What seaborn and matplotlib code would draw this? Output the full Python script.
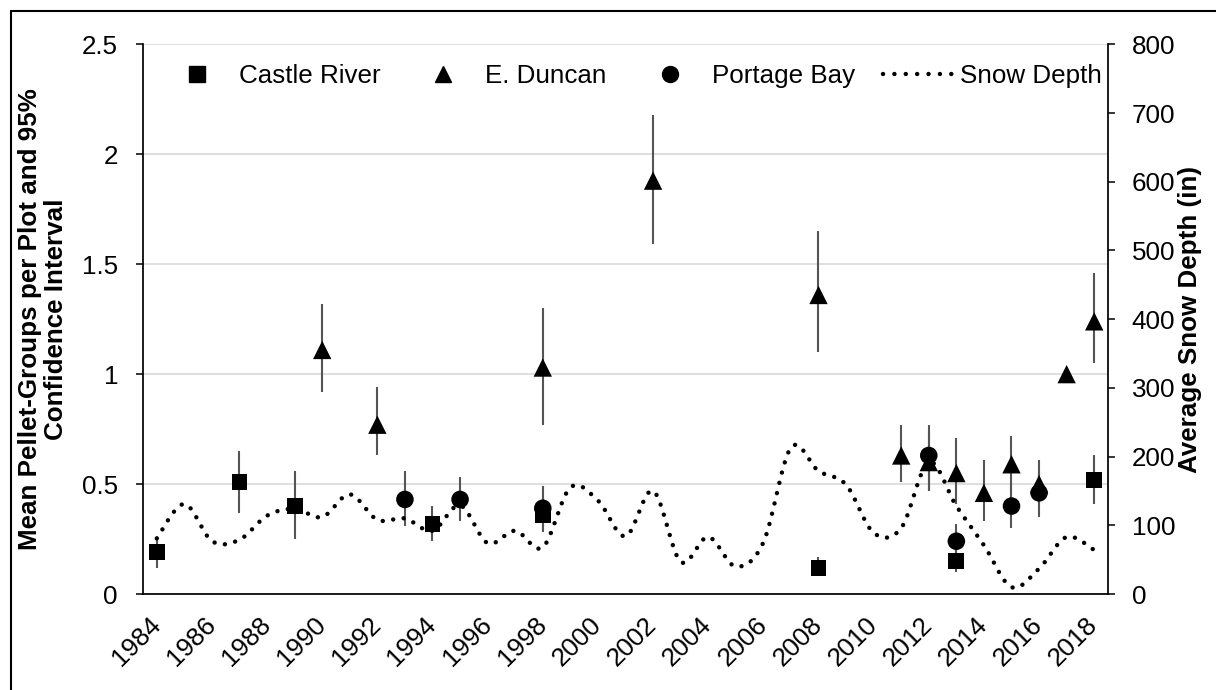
import numpy as np
import pandas as pd
import matplotlib
matplotlib.use("Agg")
import matplotlib.pyplot as plt
from matplotlib.lines import Line2D
import seaborn as sns

# ---- pellet-group survey data: mean and 95% confidence limits ----
castle_years = [1984, 1987, 1989, 1994, 1998, 2008, 2013, 2018]
castle_mean = [0.19, 0.51, 0.40, 0.32, 0.36, 0.12, 0.15, 0.52]
castle_lo = [0.12, 0.37, 0.25, 0.24, 0.28, 0.08, 0.10, 0.41]
castle_hi = [0.25, 0.65, 0.56, 0.40, 0.44, 0.17, 0.21, 0.63]

duncan_years = [1990, 1992, 1998, 2002, 2008, 2011, 2012, 2013, 2014, 2015, 2016, 2017, 2018]
duncan_mean = [1.11, 0.77, 1.03, 1.88, 1.36, 0.63, 0.60, 0.55, 0.46, 0.59, 0.50, 1.00, 1.24]
duncan_lo = [0.92, 0.63, 0.77, 1.59, 1.10, 0.51, 0.47, 0.41, 0.33, 0.47, 0.40, 1.00, 1.05]
duncan_hi = [1.32, 0.94, 1.30, 2.18, 1.65, 0.77, 0.74, 0.71, 0.61, 0.72, 0.61, 1.00, 1.46]

portage_years = [1993, 1995, 1998, 2012, 2013, 2015, 2016]
portage_mean = [0.43, 0.43, 0.39, 0.63, 0.24, 0.40, 0.46]
portage_lo = [0.31, 0.33, 0.29, 0.47, 0.16, 0.30, 0.35]
portage_hi = [0.56, 0.53, 0.49, 0.77, 0.32, 0.50, 0.56]

# ---- average snow depth (in) per year ----
snow_years = list(range(1984, 2019))
snow_depth = [81, 131, 77, 79, 114, 124, 112, 145, 108, 110, 92, 129, 74, 92, 68,
              155, 136, 84, 150, 47, 83, 40, 75, 213, 179, 159, 89, 96, 192, 128,
              71, 10, 37, 83, 64]

x_labels = list(range(1984, 2019, 2))
left_ticks = [0, 0.5, 1, 1.5, 2, 2.5]
right_ticks = list(range(0, 801, 100))


def smooth_curve(x, y, steps=24):
    """Bezier smoothing through every point (Catmull-Rom style tangents)."""
    x = np.asarray(x, float)
    y = np.asarray(y, float)
    px = np.concatenate([[x[0]], x, [x[-1]]])
    py = np.concatenate([[y[0]], y, [y[-1]]])
    xs, ys = [], []
    t = np.linspace(0, 1, steps, endpoint=False)
    for i in range(1, len(px) - 2):
        p0 = np.array([px[i], py[i]])
        p3 = np.array([px[i + 1], py[i + 1]])
        c1 = p0 + (p3 - np.array([px[i - 1], py[i - 1]])) / 6
        c2 = p3 - (np.array([px[i + 2], py[i + 2]]) - p0) / 6
        b = ((1 - t) ** 3)[:, None] * p0 + (3 * (1 - t) ** 2 * t)[:, None] * c1 \
            + (3 * (1 - t) * t ** 2)[:, None] * c2 + (t ** 3)[:, None] * p3
        xs.append(b[:, 0])
        ys.append(b[:, 1])
    xs.append([x[-1]])
    ys.append([y[-1]])
    return np.concatenate(xs), np.concatenate(ys)


sns.set_theme(style="white")
plt.rcParams["font.family"] = ["Liberation Sans", "DejaVu Sans"]
plt.rcParams["text.color"] = "black"
plt.rcParams["axes.labelcolor"] = "black"
plt.rcParams["xtick.color"] = "black"
plt.rcParams["ytick.color"] = "black"

FS = 18.7

fig = plt.figure(figsize=(12.16, 6.90), dpi=100)
ax = fig.add_axes([143 / 1216, 1 - 594 / 690, 965 / 1216, (594 - 44.3) / 690])

err_color = "#555555"
series = [
    (castle_years, castle_mean, castle_lo, castle_hi, "s", 132),
    (duncan_years, duncan_mean, duncan_lo, duncan_hi, "^", 175),
    (portage_years, portage_mean, portage_lo, portage_hi, "o", 160),
]
for yrs, mean, lo, hi, mk, size in series:
    ax.vlines(yrs, lo, hi, color=err_color, lw=1.5, zorder=2)
    df = pd.DataFrame({"year": yrs, "mean": mean})
    sns.scatterplot(data=df, x="year", y="mean", marker=mk, s=size, color="black",
                    edgecolor="none", linewidth=0, ax=ax, zorder=3, legend=False)

ax.set_xlim(1983.5, 2018.5)
ax.set_ylim(0, 2.5)
ax.set_xlabel("")
ax.set_ylabel("Mean Pellet-Groups per Plot and 95%\nConfidence Interval",
              fontsize=FS, fontweight="bold", linespacing=1.15)
ax.yaxis.set_label_coords(-0.1036, 0.5)
ax.yaxis.label.set_va("center")

ax.set_yticks(left_ticks)
ax.set_yticklabels([f"{v:g}" for v in left_ticks], fontsize=FS)
ax.set_xticks(x_labels)
ax.set_xticklabels([str(v) for v in x_labels], fontsize=FS)
ax.set_xticks(np.arange(1983.5, 2018, 2), minor=True)
ax.tick_params(axis="x", which="major", length=0, pad=19.5)
ax.tick_params(axis="x", which="minor", length=5, width=1.1, direction="out", color="black")
ax.tick_params(axis="y", which="major", length=5, width=1.1, direction="out", pad=13, color="black")
for lab in ax.get_xticklabels():
    lab.set_rotation(45)
    lab.set_ha("right")
    lab.set_va("center")
    lab.set_rotation_mode("anchor")

ax.grid(axis="y", color="#d9d9d9", lw=1.2)
ax.grid(axis="x", visible=False)
ax.set_axisbelow(True)
for side in ["top", "right"]:
    ax.spines[side].set_visible(False)
for side in ["left", "bottom"]:
    ax.spines[side].set_color("black")
    ax.spines[side].set_linewidth(1.25)

# ---- snow depth on the secondary axis ----
ax2 = ax.twinx()
sx, sy = smooth_curve(snow_years, snow_depth)
sns.lineplot(x=sx, y=sy, ax=ax2, sort=False, estimator=None, color="black", lw=3.2,
             zorder=4, legend=False)
snow_line = ax2.lines[-1]
snow_line.set_linestyle((0, (0.01, 2.37)))
snow_line.set_dash_capstyle("round")

ax2.set_ylim(0, 800)
ax2.set_yticks(right_ticks)
ax2.set_yticklabels([str(v) for v in right_ticks], fontsize=FS)
ax2.tick_params(axis="y", which="major", length=5, width=1.1, direction="out", pad=12, color="black")
ax2.set_ylabel("Average Snow Depth (in)", fontsize=FS, fontweight="bold", rotation=90)
ax2.yaxis.set_label_coords(1.085, 0.5)
ax2.yaxis.label.set_va("center")
ax2.grid(False)
for side in ["top", "left", "bottom"]:
    ax2.spines[side].set_visible(False)
ax2.spines["right"].set_color("black")
ax2.spines["right"].set_linewidth(1.25)

# ---- legend across the top ----
handles = [
    Line2D([], [], marker="s", color="black", linestyle="none", markersize=11.5),
    Line2D([], [], marker="^", color="black", linestyle="none", markersize=12),
    Line2D([], [], marker="o", color="black", linestyle="none", markersize=11.5),
    Line2D([], [], color="black", lw=3.2, linestyle=(0, (0.01, 2.55)), dash_capstyle="round"),
]
names = ["Castle River", "E. Duncan", "Portage Bay", "Snow Depth"]
ax2.legend(handles, names, loc="center left", ncol=4, frameon=False, fontsize=FS,
           bbox_to_anchor=(162.5 / 1216, 1 - 76 / 690), bbox_transform=fig.transFigure,
           borderpad=0, borderaxespad=0, handlelength=2.63, handletextpad=0.31,
           columnspacing=1.1)

# ---- outer border of the chart area ----
fig.add_artist(Line2D([11 / 1216, 11 / 1216], [-0.05, 1 - 11 / 690], color="black",
                      lw=1.5, transform=fig.transFigure))
fig.add_artist(Line2D([11 / 1216, 1.05], [1 - 11 / 690, 1 - 11 / 690], color="black",
                      lw=1.5, transform=fig.transFigure))

fig.savefig("out.png", dpi=100)
